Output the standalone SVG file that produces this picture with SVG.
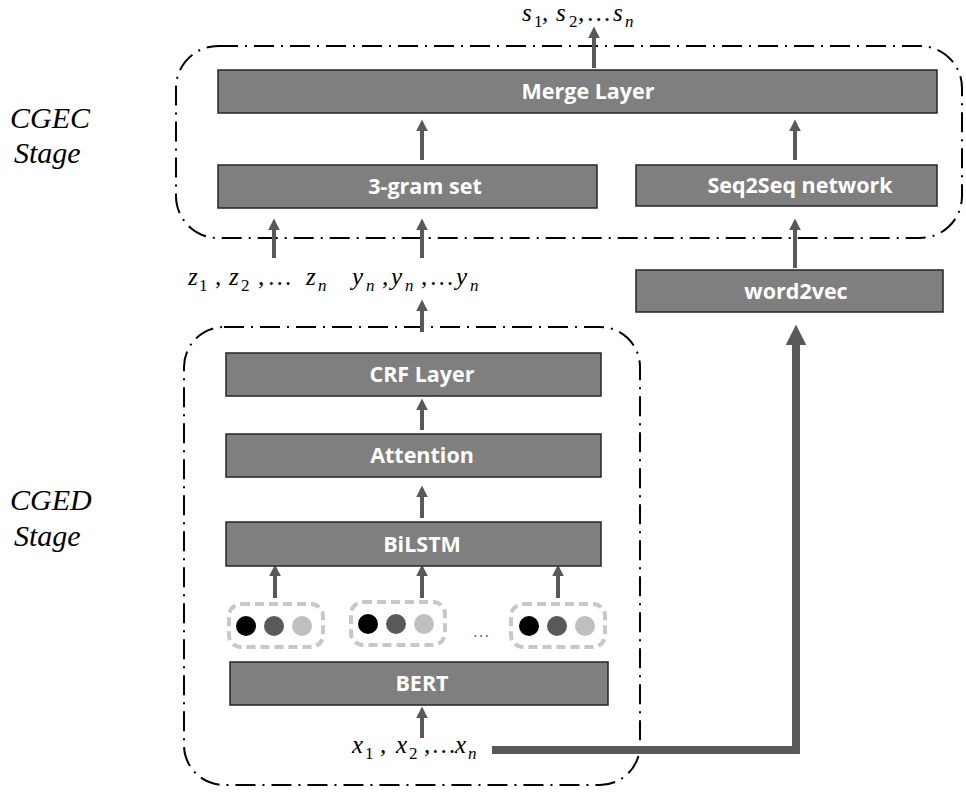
<svg xmlns="http://www.w3.org/2000/svg" width="966" height="796" viewBox="0 0 966 796">
<defs>
<style>
.box{fill:#7f7f7f;stroke:#262626;stroke-width:1.5}
.lbl{font-family:'Open Sans','Liberation Sans',sans-serif;font-weight:bold;font-size:21.5px;fill:#fff;text-anchor:middle}
.stage{fill:none;stroke:#000;stroke-width:2;stroke-dasharray:20 7 2 7}
.d{font-style:normal;font-size:17px}
.n{font-style:italic;font-size:17px}
.arr{stroke:#595959;stroke-width:4;marker-end:url(#ah)}
.grp{fill:#fff;stroke:#c8c8c8;stroke-width:4;stroke-dasharray:9 5}
</style>
<marker id="ah" viewBox="0 0 10 10" refX="7" refY="5" markerWidth="3" markerHeight="3" orient="auto" markerUnits="strokeWidth">
<path d="M0,0 L10,5 L0,10 Z" fill="#595959"/>
</marker>
<marker id="ahb" viewBox="0 0 10 10" refX="5" refY="5" markerWidth="2.6" markerHeight="2.6" orient="auto" markerUnits="strokeWidth">
<path d="M0,0 L10,5 L0,10 Z" fill="#595959"/>
</marker>
</defs>

<g id="stages">
<rect class="stage" x="176" y="46" width="786" height="192" rx="42"/>
<rect class="stage" x="184" y="327" width="456" height="458" rx="40"/>
<text style="font-family:'Liberation Serif',serif;font-style:italic;font-size:30px" x="10" y="128">CGEC</text>
<text style="font-family:'Liberation Serif',serif;font-style:italic;font-size:30px" x="14" y="163">Stage</text>
<text style="font-family:'Liberation Serif',serif;font-style:italic;font-size:30px" x="10" y="510">CGED</text>
<text style="font-family:'Liberation Serif',serif;font-style:italic;font-size:30px" x="14" y="546">Stage</text>
</g>

<g id="connectors">
<line class="arr" x1="594" y1="68" x2="594" y2="30"/>
<line class="arr" x1="422" y1="160" x2="422" y2="123"/>
<line class="arr" x1="795" y1="160" x2="795" y2="123"/>
<line class="arr" x1="274" y1="258" x2="274" y2="222"/>
<line class="arr" x1="422" y1="258" x2="422" y2="222"/>
<line class="arr" x1="795" y1="268" x2="795" y2="222"/>
<line class="arr" x1="422" y1="332" x2="422" y2="303"/>
<line class="arr" x1="422" y1="430" x2="422" y2="402"/>
<line class="arr" x1="422" y1="518" x2="422" y2="489"/>
<line class="arr" x1="275" y1="598" x2="275" y2="568"/>
<line class="arr" x1="422" y1="598" x2="422" y2="568"/>
<line class="arr" x1="558" y1="598" x2="558" y2="568"/>
<line class="arr" x1="422" y1="738" x2="422" y2="710"/>
<path d="M492,750 L796,750 L796,335" style="fill:none;stroke:#595959;stroke-width:8;marker-end:url(#ahb)"/>
</g>

<g id="merge"><rect class="box" x="218" y="70" width="719" height="43"/><text class="lbl" x="588" y="99">Merge Layer</text></g>
<g id="trigram"><rect class="box" x="218" y="165" width="379" height="43"/><text class="lbl" x="425" y="194">3-gram set</text></g>
<g id="seq2seq"><rect class="box" x="636" y="165" width="301" height="41"/><text class="lbl" x="800" y="193">Seq2Seq network</text></g>
<g id="word2vec"><rect class="box" x="636" y="270" width="307" height="42"/><text class="lbl" x="796" y="299">word2vec</text></g>
<g id="crf"><rect class="box" x="226" y="353" width="375" height="43"/><text class="lbl" x="422" y="382">CRF Layer</text></g>
<g id="attention"><rect class="box" x="226" y="434" width="375" height="43"/><text class="lbl" x="422" y="463">Attention</text></g>
<g id="bilstm"><rect class="box" x="226" y="522" width="375" height="44"/><text class="lbl" x="422" y="552">BiLSTM</text></g>
<g id="bert"><rect class="box" x="230" y="662" width="378" height="43"/><text class="lbl" x="422" y="691">BERT</text></g>

<g id="emb1"><rect class="grp" x="229" y="604" width="94" height="43" rx="12"/><circle cx="246" cy="626" r="10" fill="#000"/><circle cx="274" cy="626" r="10" fill="#595959"/><circle cx="302" cy="626" r="10" fill="#bfbfbf"/></g>
<g id="emb2"><rect class="grp" x="351" y="602" width="94" height="43" rx="12"/><circle cx="368" cy="624" r="10" fill="#000"/><circle cx="396" cy="624" r="10" fill="#595959"/><circle cx="424" cy="624" r="10" fill="#bfbfbf"/></g>
<g id="emb3"><rect class="grp" x="511" y="604" width="94" height="43" rx="12"/><circle cx="529" cy="626" r="10" fill="#000"/><circle cx="557" cy="626" r="10" fill="#595959"/><circle cx="585" cy="626" r="10" fill="#bfbfbf"/></g>
<text x="481" y="637" style="font-family:'Liberation Sans',sans-serif;font-size:18px;fill:#4a7fc9;text-anchor:middle">…</text>

<g id="labels" style="font-family:'Liberation Serif',serif;font-style:italic;font-size:25px">
<text y="21"><tspan x="522">s</tspan><tspan class="d" x="534" y="27">1</tspan><tspan x="542" y="21">,</tspan><tspan x="556">s</tspan><tspan class="d" x="569" y="27">2</tspan><tspan x="578" y="21">,</tspan><tspan x="588">…</tspan><tspan x="613">s</tspan><tspan class="n" x="625" y="27">n</tspan></text>
<text y="285"><tspan x="188">z</tspan><tspan class="d" x="199" y="291">1</tspan><tspan x="215" y="285">,</tspan><tspan x="229">z</tspan><tspan class="d" x="241" y="291">2</tspan><tspan x="258" y="285">,</tspan><tspan x="269">…</tspan><tspan x="306">z</tspan><tspan class="n" x="318" y="291">n</tspan><tspan x="352" y="285">y</tspan><tspan class="n" x="366" y="291">n</tspan><tspan x="382" y="285">,</tspan><tspan x="391">y</tspan><tspan class="n" x="405" y="291">n</tspan><tspan x="421" y="285">,</tspan><tspan x="431">…</tspan><tspan x="456">y</tspan><tspan class="n" x="470" y="291">n</tspan></text>
<text y="753"><tspan x="352">x</tspan><tspan class="d" x="365" y="759">1</tspan><tspan x="380" y="753">,</tspan><tspan x="396">x</tspan><tspan class="d" x="409" y="759">2</tspan><tspan x="424" y="753">,</tspan><tspan x="433">…</tspan><tspan x="455">x</tspan><tspan class="n" x="468" y="759">n</tspan></text>
</g>
</svg>
